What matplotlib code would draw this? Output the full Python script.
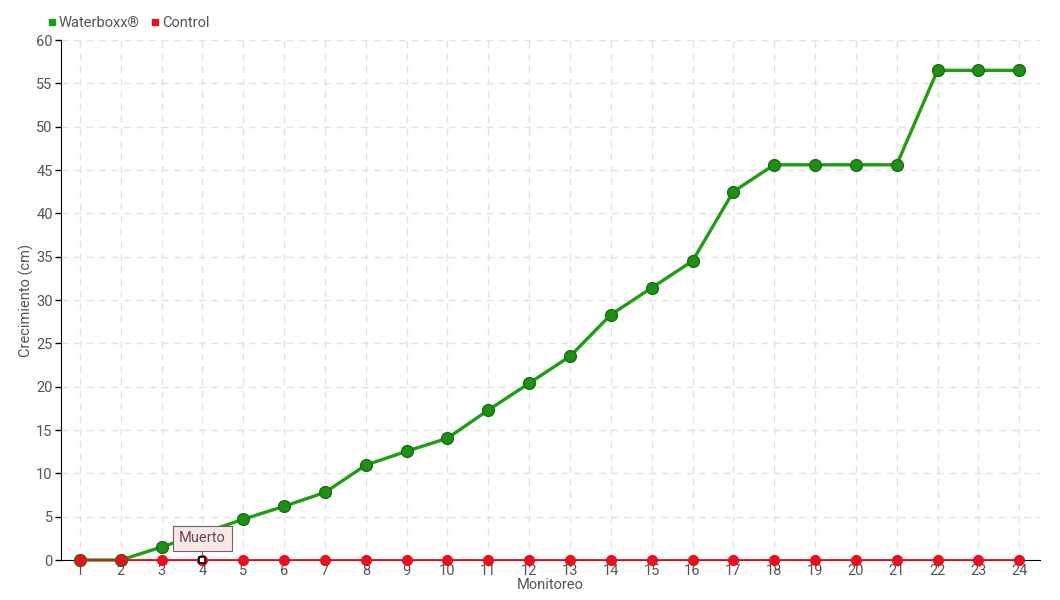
import numpy as np
import matplotlib.pyplot as plt

# data
monitoreo = np.arange(1, 25)
waterboxx = [0, 0, 1.5, 3.1, 4.7, 6.2, 7.8, 10.95, 12.55, 14.05, 17.3, 20.4,
             23.5, 28.3, 31.4, 34.5, 42.5, 45.6, 45.6, 45.6, 45.6, 56.5, 56.5, 56.5]
control = [0] * 24
y_ticks = list(range(0, 61, 5))
muerto_idx = 3  # monitoreo 4

plt.rcParams['font.family'] = ['Roboto', 'DejaVu Sans']
txt = '#555555'

fig = plt.figure(figsize=(10.6, 6), dpi=100)
ax = fig.add_axes([61 / 1060, 40 / 600, (1040 - 61) / 1060, 520 / 600])

green = '#1f9e12'
red = '#e8101e'

ax.plot(monitoreo, waterboxx, color=green, lw=2.4, marker='o', ms=8.5,
        mfc='#1f9015', mec='#17700f', mew=1.0, zorder=3, label='Waterboxx®',
        clip_on=False)
ax.plot(monitoreo, control, color=red, lw=1.3, marker='o', ms=7,
        mfc=red, mec=red, zorder=4, label='Control', clip_on=False)
ax.plot(monitoreo[muerto_idx], control[muerto_idx], marker='s', ms=4.5,
        mfc='white', mec='black', mew=1.2, zorder=6, clip_on=False)

ax.annotate('Muerto', xy=(monitoreo[muerto_idx], control[muerto_idx]),
            xytext=(0, 15.5), textcoords='offset points', ha='center', va='center',
            fontsize=10.5, color=txt, zorder=7, annotation_clip=False,
            bbox=dict(boxstyle='square,pad=0.4', fc='#fde6e6', ec='#666666', lw=0.8),
            arrowprops=dict(arrowstyle='-', color='#666666', lw=0.8, shrinkA=0, shrinkB=3))

ax.set_xlim(0.535, 24.51)
ax.set_ylim(0, 60)
ax.set_xticks(monitoreo)
ax.set_yticks(y_ticks)
ax.tick_params(axis='x', length=0, pad=3, labelsize=10.5, labelcolor=txt)
ax.tick_params(axis='y', length=4, width=1, direction='out', pad=2,
               labelsize=10.5, labelcolor=txt)
ax.grid(True, color='#e2e2e2', ls=(0, (5, 4)), lw=1)
ax.set_axisbelow(True)
for s in ['top', 'right']:
    ax.spines[s].set_visible(False)
ax.spines['left'].set_color('black')
ax.spines['bottom'].set_color('black')
ax.spines['left'].set_zorder(2)
ax.spines['bottom'].set_zorder(2)

ax.set_ylabel('Crecimiento (cm)', fontsize=10.5, color=txt)
ax.set_xlabel('Monitoreo', fontsize=10.5, color=txt)
ax.yaxis.set_label_coords(-0.0275, 0.5)
ax.xaxis.set_label_coords(0.5, -0.034)

fig.legend(handles=[plt.Line2D([], [], ls='', marker='s', ms=5, color=green, label='Waterboxx®'),
                    plt.Line2D([], [], ls='', marker='s', ms=5, color=red, label='Control')],
           loc='upper left', bbox_to_anchor=(40 / 1060, 1 - 10 / 600), ncol=2,
           frameon=False, fontsize=10.5, labelcolor=txt, handletextpad=0.1,
           columnspacing=0.6, handlelength=0.8, borderaxespad=0)

fig.savefig('out.png', dpi=100)
